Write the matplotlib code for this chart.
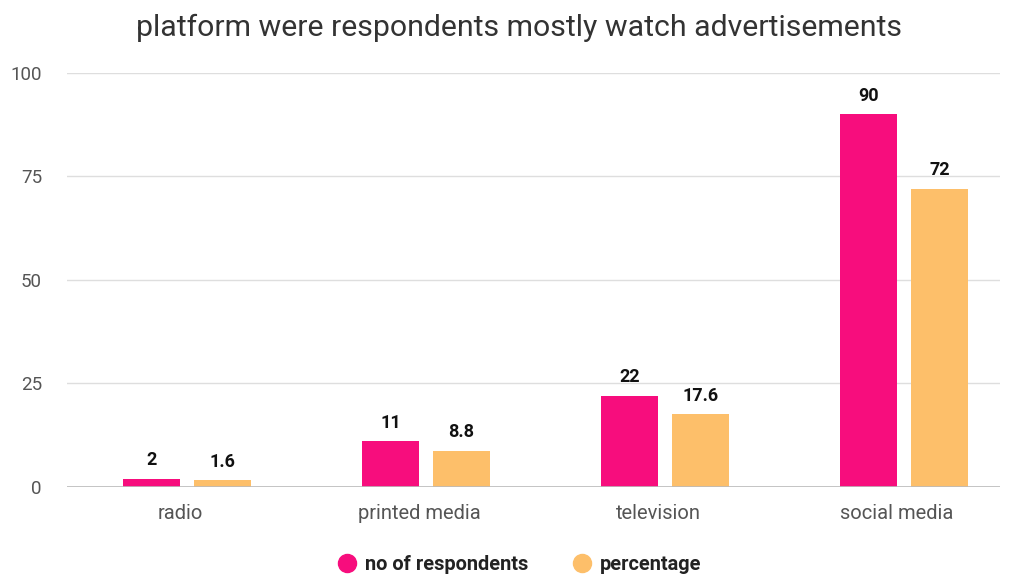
import matplotlib.pyplot as plt
from matplotlib.lines import Line2D
import numpy as np

plt.rcParams['font.family'] = ['Roboto', 'DejaVu Sans']

categories = ['radio', 'printed media', 'television', 'social media']
respondents = [2, 11, 22, 90]
percentage = [1.6, 8.8, 17.6, 72]
yticks = [0, 25, 50, 75, 100]

pink = '#f70d7d'
orange = '#fdbf6a'

fig = plt.figure(figsize=(10.12, 5.77), dpi=100)
ax = fig.add_axes([0.0662, 0.156, 0.9218, 0.7175])

x = np.arange(len(categories))
off = 0.1485
w = 0.238
b1 = ax.bar(x - off, respondents, w, color=pink, zorder=3)
b2 = ax.bar(x + off, percentage, w, color=orange, zorder=3)

for bars, vals in ((b1, respondents), (b2, percentage)):
    for r, v in zip(bars, vals):
        ax.text(r.get_x() + r.get_width() / 2, v + 2.3, f'{v:g}', ha='center', va='bottom',
                fontsize=13, fontweight='bold', color='#111111')

ax.set_xlim(-0.502, 3.40)
ax.set_ylim(0, 100)
ax.set_yticks(yticks)
ax.set_xticks(x - 0.03)
ax.set_xticklabels(categories)
ax.grid(axis='y', color='#dedede', linewidth=1, zorder=0)
ax.axhline(0, color='#bbbbbb', linewidth=1.2, zorder=4)
for s in ax.spines.values():
    s.set_visible(False)
ax.tick_params(axis='both', length=0, colors='#555555')
ax.tick_params(axis='y', pad=18, labelsize=13.5)
ax.tick_params(axis='x', pad=12, labelsize=14.5)

fig.text(0.513, 0.951, 'platform were respondents mostly watch advertisements',
         ha='center', va='center', fontsize=21.8, color='#333333')

handles = [Line2D([], [], marker='o', linestyle='none', markersize=13, color=pink),
           Line2D([], [], marker='o', linestyle='none', markersize=13, color=orange)]
leg = fig.legend(handles, ['no of respondents', 'percentage'], loc='center',
                 bbox_to_anchor=(0.513, 0.021), ncol=2, frameon=False,
                 prop={'weight': 'bold', 'size': 14.4}, handletextpad=0.4,
                 columnspacing=2.2, handlelength=1.0)
for t in leg.get_texts():
    t.set_color('#222222')

fig.savefig('out.png', dpi=100)
